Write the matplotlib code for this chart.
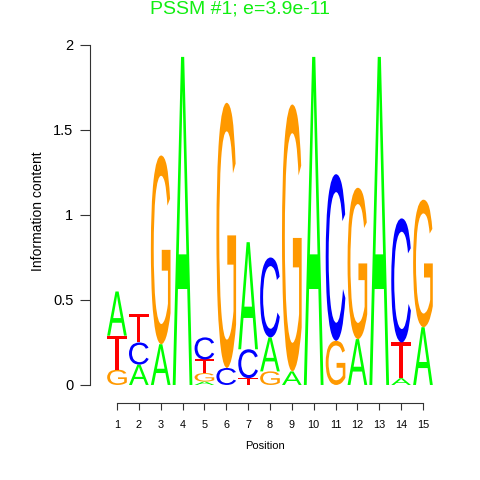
import matplotlib
matplotlib.use("Agg")
import matplotlib.pyplot as plt
from matplotlib.textpath import TextPath
from matplotlib.patches import PathPatch
from matplotlib.font_manager import FontProperties
from matplotlib.transforms import Affine2D

plt.rcParams["font.family"] = ["Liberation Sans", "DejaVu Sans"]

positions = list(range(1, 16))
A = [0.26, 0.12, 0.24, 1.93, 0.02, 0.00, 0.63, 0.20, 0.08, 1.93, 0.00, 0.27, 1.93, 0.04, 0.34]
C = [0.00, 0.13, 0.00, 0.00, 0.13, 0.10, 0.17, 0.47, 0.00, 0.00, 0.98, 0.00, 0.00, 0.73, 0.00]
G = [0.09, 0.00, 1.11, 0.00, 0.05, 1.56, 0.00, 0.08, 1.57, 0.00, 0.26, 0.89, 0.00, 0.00, 0.75]
T = [0.20, 0.17, 0.00, 0.00, 0.08, 0.00, 0.04, 0.00, 0.00, 0.00, 0.00, 0.00, 0.00, 0.21, 0.00]

colors = {"A": "#00FF00", "C": "#0000FF", "G": "#FF9900", "T": "#FF0000"}
heights = {"A": A, "C": C, "G": G, "T": T}
fp = FontProperties(family="Liberation Sans")

fig = plt.figure(figsize=(4.8, 4.8), dpi=100)
# axes box in pixels: left 90, right 440, top 45, bottom 403
ax = fig.add_axes([90 / 480, (480 - 403) / 480, 350 / 480, 358 / 480])


def draw_letter(ax, letter, x, y0, h, w=0.9):
    tp = TextPath((0, 0), letter, size=1, prop=fp)
    bb = tp.get_extents()
    tr = Affine2D().translate(-bb.x0, -bb.y0).scale(w / bb.width, h / bb.height).translate(x - w / 2, y0)
    ax.add_patch(PathPatch(tr.transform_path(tp), facecolor=colors[letter], edgecolor="none"))


for i, pos in enumerate(positions):
    stack = sorted("ACGT", key=lambda l: heights[l][i])
    y = 0.0
    for l in stack:
        h = heights[l][i]
        if h > 0:
            draw_letter(ax, l, pos, y, h)
            y += h

ax.set_xlim(-0.235, 15.78)
ax.set_ylim(-0.106, 2.0)
for s in ["top", "right"]:
    ax.spines[s].set_visible(False)
ax.spines["left"].set_bounds(0, 2)
ax.spines["bottom"].set_bounds(1, 15)
ax.spines["left"].set_color("#333333")
ax.spines["bottom"].set_color("#333333")
ax.set_yticks([0, 0.5, 1, 1.5, 2])
ax.set_yticklabels(["0", "0.5", "1", "1.5", "2"])
ax.set_xticks(positions)
ax.tick_params(axis="y", labelsize=10.5, length=7, pad=5, colors="#333333", labelcolor="black")
ax.tick_params(axis="x", labelsize=7.8, length=5, pad=7, colors="#333333", labelcolor="black")
ax.set_xlabel("Position", fontsize=8, labelpad=8)
ax.set_ylabel("Information content", fontsize=10)
ax.yaxis.set_label_coords(-0.13, (403 - 211) / 358)
fig.text(0.5, 1 - 9 / 480, "PSSM #1; e=3.9e-11", color="#11EE11", fontsize=14, ha="center", va="center")

fig.savefig("out.png", dpi=100)
